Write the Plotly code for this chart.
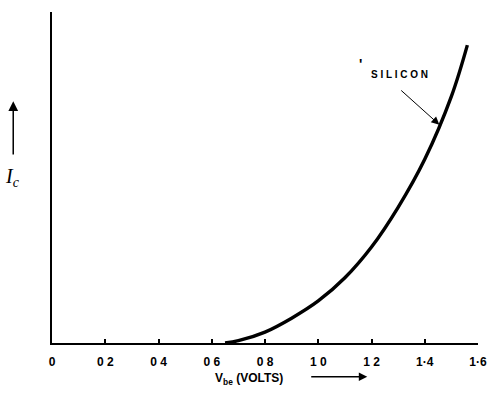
import numpy as np
import plotly.graph_objects as go

# Silicon transistor input characteristic: collector current vs base-emitter voltage
vbe = [0.65, 0.70, 0.80, 0.90, 1.00, 1.10, 1.20, 1.30, 1.40, 1.50, 1.56]
ic = [0.0, 0.07, 0.33, 0.75, 1.27, 1.97, 2.90, 4.10, 5.55, 7.45, 9.00]

tick_vals = [0, 0.2, 0.4, 0.6, 0.8, 1.0, 1.2, 1.4, 1.6]
tick_text = ["0", "0 2", "0 4", "0 6", "0 8", "1 0", "1 2", "1·4", "1·6"]

fig = go.Figure()
fig.add_trace(go.Scatter(
    x=vbe, y=ic, mode="lines",
    line=dict(color="black", width=3.4, shape="spline", smoothing=1.0),
    hoverinfo="skip", showlegend=False,
))

# point on the curve where the label arrow lands
tip_x = 1.455
tip_y = float(np.interp(tip_x, vbe, ic))

fig.update_layout(
    width=499, height=396,
    margin=dict(l=52, r=17, t=12, b=53),
    paper_bgcolor="white", plot_bgcolor="white",
    font=dict(family="Liberation Sans", color="black"),
    xaxis=dict(
        range=[0, 1.6], showgrid=False, zeroline=False,
        showline=True, linecolor="black", linewidth=2,
        ticks="inside", ticklen=4, tickwidth=1.5, tickcolor="black",
        tickvals=tick_vals, ticktext=["<b>" + t + "</b>" for t in tick_text],
        tickfont=dict(family="Liberation Sans", size=12, color="black"),
        ticklabelstandoff=7,
        fixedrange=True,
    ),
    yaxis=dict(
        range=[0, 10], showgrid=False, zeroline=False,
        showline=True, linecolor="black", linewidth=2,
        showticklabels=False, ticks="", fixedrange=True,
    ),
    annotations=[
        # curve label with pointer
        dict(x=tip_x, y=tip_y, xref="x", yref="y",
             ax=1.306, ay=7.67, axref="x", ayref="y",
             text="", showarrow=True, arrowhead=2, arrowsize=1.6,
             arrowwidth=1, arrowcolor="black"),
        dict(x=1.19, y=8.1, xref="x", yref="y", xanchor="left",
             text="<b>S I L I C O N</b>", showarrow=False,
             font=dict(family="Liberation Sans", size=10, color="black")),
        dict(x=1.158, y=8.42, xref="x", yref="y",
             text="<b>'</b>", showarrow=False,
             font=dict(family="Liberation Sans", size=14, color="black")),
        # y-axis label with upward arrow
        dict(x=-0.114, y=0.5, xref="x domain", yref="y domain",
             text="<i>I<sub>c</sub></i>", showarrow=False,
             font=dict(family="Liberation Serif", size=20, color="black")),
        dict(x=-0.091, y=0.73, xref="x domain", yref="y domain",
             ax=-0.091, ay=0.565, axref="x domain", ayref="y domain",
             text="", showarrow=True, arrowhead=2, arrowsize=1.3,
             arrowwidth=1.5, arrowcolor="black"),
        # x-axis label with rightward arrow
        dict(x=0.377, y=-0.108, xref="x domain", yref="y domain",
             xanchor="left", yanchor="middle",
             text="<b>V<sub>be</sub> (VOLTS)</b>", showarrow=False,
             font=dict(family="Liberation Sans", size=12, color="black")),
        dict(x=0.74, y=-0.102, xref="x domain", yref="y domain",
             ax=0.605, ay=-0.102, axref="x domain", ayref="y domain",
             text="", showarrow=True, arrowhead=2, arrowsize=1.3,
             arrowwidth=1.3, arrowcolor="black"),
    ],
)

fig.write_html("out.html")
